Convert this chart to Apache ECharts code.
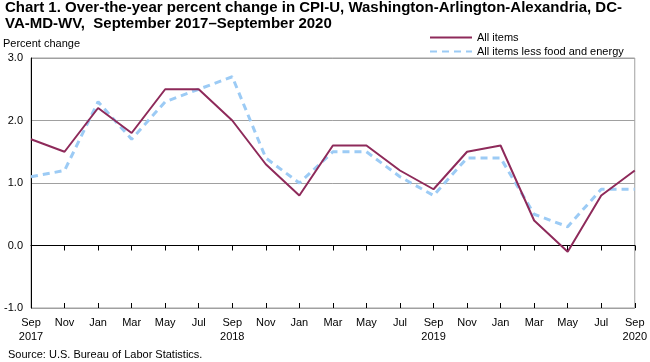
<!DOCTYPE html>
<html>
<head>
<meta charset="utf-8">
<script src="https://cdn.jsdelivr.net/npm/echarts@6/dist/echarts.min.js"></script>
<style>
html,body{margin:0;padding:0;background:#fff;}
#chart{width:650px;height:362px;}
</style>
</head>
<body>
<div id="chart"></div>
<script>
const categories = ['Sep\n2017','Nov','Jan','Mar','May','Jul','Sep\n2018','Nov','Jan','Mar','May','Jul','Sep\n2019','Nov','Jan','Mar','May','Jul','Sep\n2020'];
const allItems = [1.7,1.5,2.2,1.8,2.5,2.5,2.0,1.3,0.8,1.6,1.6,1.2,0.9,1.5,1.6,0.4,-0.1,0.8,1.2];
const coreItems = [1.1,1.2,2.3,1.7,2.3,2.5,2.7,1.4,1.0,1.5,1.5,1.1,0.8,1.4,1.4,0.5,0.3,0.9,0.9];
const seriesNames = ['All items','All items less food and energy'];
const yTicks = {min:-1, max:3, interval:1};
const titleLines = ['Chart 1. Over-the-year percent change in CPI-U, Washington-Arlington-Alexandria, DC-','VA-MD-WV,  September 2017\u2013September 2020'];

const font = 'Liberation Sans, Arial, sans-serif';
const chart = echarts.init(document.getElementById('chart'));
const xBase = {type:'category', data:categories, boundaryGap:false, gridIndex:0};
chart.setOption({
  animation:false,
  textStyle:{fontFamily:font},
  legend:{
    orient:'vertical', left:424, top:27, itemGap:3, itemWidth:42, itemHeight:8,
    itemStyle:{opacity:0},
    textStyle:{fontSize:11, color:'#000', fontFamily:font},
    data:seriesNames
  },
  graphic:[
    {type:'text', x:5, y:0,
      style:{text:titleLines.join('\n'), font:'bold 15px '+font, fill:'#000', lineHeight:16}},
    {type:'text', left:3, top:38, style:{text:'Percent change', font:'11px '+font, fill:'#000'}},
    {type:'text', left:8, top:349, style:{text:'Source: U.S. Bureau of Labor Statistics.', font:'11px '+font, fill:'#000'}}
  ],
  grid:{left:31, right:13, top:58, bottom:54, show:true, borderColor:'#a0a0a0', borderWidth:1, containLabel:false},
  xAxis:[
    Object.assign({}, xBase, {position:'bottom', axisLine:{show:false, onZero:false}, axisTick:{show:false}, splitLine:{show:false},
      axisLabel:{interval:0, margin:8, fontSize:11, color:'#000', lineHeight:14, fontFamily:font}}),
    Object.assign({}, xBase, {position:'bottom', axisLine:{show:true, onZero:true, lineStyle:{color:'#000', width:1}},
      axisTick:{show:true, inside:false, length:5, interval:0, lineStyle:{color:'#000'}}, axisLabel:{show:false}, splitLine:{show:false}}),
    Object.assign({}, xBase, {position:'bottom', axisLine:{show:false, onZero:true},
      axisTick:{show:true, inside:true, length:5, interval:0, lineStyle:{color:'#000'}}, axisLabel:{show:false}, splitLine:{show:false}})
  ],
  yAxis:{type:'value', min:yTicks.min, max:yTicks.max, interval:yTicks.interval,
    axisLine:{show:true, lineStyle:{color:'#000', width:1}}, axisTick:{show:false},
    axisLabel:{formatter:v=>v.toFixed(1), fontSize:11, color:'#000', margin:8, fontFamily:font},
    splitLine:{show:true, lineStyle:{color:'#a0a0a0', width:1}}},
  series:[
    {name:seriesNames[0], type:'line', data:allItems, xAxisIndex:0, symbol:'none', z:3,
      lineStyle:{color:'#8e2a5a', width:2}, itemStyle:{color:'#8e2a5a'}},
    {name:seriesNames[1], type:'line', data:coreItems, xAxisIndex:0, symbol:'none', z:2,
      lineStyle:{color:'#9ccbf5', width:3, type:[7,5]}, itemStyle:{color:'#9ccbf5'}}
  ]
});
</script>
</body>
</html>
